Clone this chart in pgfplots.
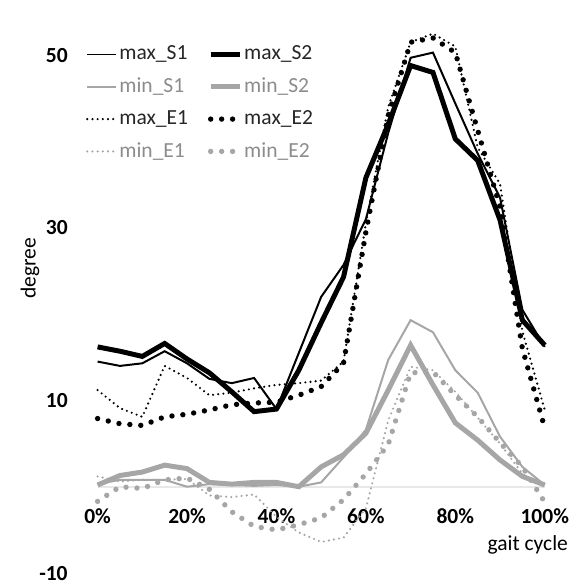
\documentclass[border=0pt]{standalone}
\usepackage{fontspec}
\setmainfont{Carlito}
\usepackage{pgfplots}
\usepackage{pgfplotstable}
\pgfplotsset{compat=1.18}
\definecolor{lgray}{HTML}{A6A6A6}
\definecolor{ltext}{HTML}{8C8C8C}
\definecolor{dtext}{HTML}{262626}
\definecolor{zline}{HTML}{E8E8E8}

% x in % of gait cycle; S1/S2, E1/E2 max and min angles
\pgfplotstableread{
x   maxSa maxSb minSa minSb maxEa maxEb minEa minEb
0   14.5  16.2  0.3   0.2   11.2  7.9   1.2   -1.7
5   14.0  15.7  0.8   1.3   9.1   7.3   0.6   0.0
10  14.3  15.1  0.8   1.7   8.1   7.1   0.8   -0.2
15  15.7  16.6  0.8   2.5   14.0  8.1   0.8   0.8
20  14.3  14.8  0.0   2.1   12.6  8.4   0.9   1.0
25  12.5  13.2  0.3   0.5   10.6  8.9   -1.0  -0.3
30  12.0  11.0  0.2   0.3   10.9  9.5   -1.2  -2.9
35  12.6  8.7   0.1   0.5   11.4  9.7   -0.9  -4.6
40  9.0   9.0   0.2   0.5   11.8  9.8   -3.5  -5.0
45  15.5  13.5  0.0   0.0   12.0  10.6  -5.3  -4.4
50  22.0  19.0  0.5   2.3   12.3  11.6  -6.4  -3.6
55  25.7  24.3  3.4   3.7   14.5  14.3  -5.9  -1.5
60  31.0  35.8  6.6   6.2   30.5  29.5  -2.5  1.5
65  41.0  42.0  14.7  11.2  44.0  43.0  7.7   4.9
70  49.7  48.8  19.3  16.4  51.5  51.5  13.9  13.2
75  50.3  48.0  17.9  11.8  52.5  52.0  13.5  13.3
80  44.4  40.3  13.5  7.4   51.0  50.3  11.0  10.6
85  38.6  37.8  10.9  5.4   39.3  41.3  8.0   8.1
90  33.5  30.9  5.8   3.1   35.1  32.4  5.0   5.1
95  20.5  19.3  2.3   1.2   18.0  16.0  1.5   2.3
100 16.2  16.4  0.2   0.2   8.9   6.8   0.0   -1.8
}\gait

\begin{document}
\begin{tikzpicture}
\useasboundingbox (-49pt,-5pt) rectangle (237.5pt,287.7pt);
\begin{axis}[
  scale only axis,
  width=224.5pt, height=260pt,
  xmin=0, xmax=100, ymin=-10, ymax=50,
  clip=false,
  axis line style={draw=none},
  tick style={draw=none},
  xtick={0,20,...,100},
  xticklabel={\pgfmathprintnumber{\tick}\%},
  ytick={-10,10,30,50},
  /pgf/number format/assume math mode=true,
  ticklabel style={font=\fontsize{10.8}{12}\selectfont\bfseries},
  xticklabel style={yshift=36pt},
  yticklabel style={xshift=-11.5pt},
  extra y ticks={0},
  extra y tick labels={},
  extra y tick style={grid=major, major grid style={zline, line width=0.8pt}},
  xlabel={gait cycle},
  xlabel style={at={(axis description cs:0.962,0.055)}, anchor=center,
    font=\fontsize{10.8}{12}\selectfont},
  ylabel={degree},
  ylabel style={at={(axis description cs:-0.151,0.588)}, anchor=center,
    font=\fontsize{10.8}{12}\selectfont},
  legend columns=2,
  legend cell align=left,
  legend image code/.code={\draw[#1] (0pt,0pt) -- (14.5pt,0pt);},
  legend style={at={(axis cs:-4,51.8)}, anchor=north west, draw=none, fill=none,
    font=\fontsize{10.8}{12}\selectfont, row sep=5.5pt,
    nodes={inner sep=1pt, text=dtext},
    /tikz/every even column/.append style={column sep=9pt}},
  thinl/.style={line width=1pt},
  thickl/.style={line width=2.5pt},
  smalld/.style={line width=1.2pt, line cap=round, dash pattern=on 0pt off 2.6pt},
  bigd/.style={line width=2.7pt, line cap=round, dash pattern=on 0pt off 5.5pt},
]
\addplot[black, thinl] table[x=x, y=maxSa] {\gait};
\addlegendentry{max\_S1}
\addplot[black, thickl] table[x=x, y=maxSb] {\gait};
\addlegendentry{max\_S2}
\addplot[lgray, thinl] table[x=x, y=minSa] {\gait};
\addlegendentry{\textcolor{ltext}{min\_S1}}
\addplot[lgray, thickl] table[x=x, y=minSb] {\gait};
\addlegendentry{\textcolor{ltext}{min\_S2}}
\addplot[black, smalld] table[x=x, y=maxEa] {\gait};
\addlegendentry{max\_E1}
\addplot[black, bigd] table[x=x, y=maxEb] {\gait};
\addlegendentry{max\_E2}
\addplot[lgray, smalld] table[x=x, y=minEa] {\gait};
\addlegendentry{\textcolor{ltext}{min\_E1}}
\addplot[lgray, bigd] table[x=x, y=minEb] {\gait};
\addlegendentry{\textcolor{ltext}{min\_E2}}
\end{axis}
\end{tikzpicture}
\end{document}
